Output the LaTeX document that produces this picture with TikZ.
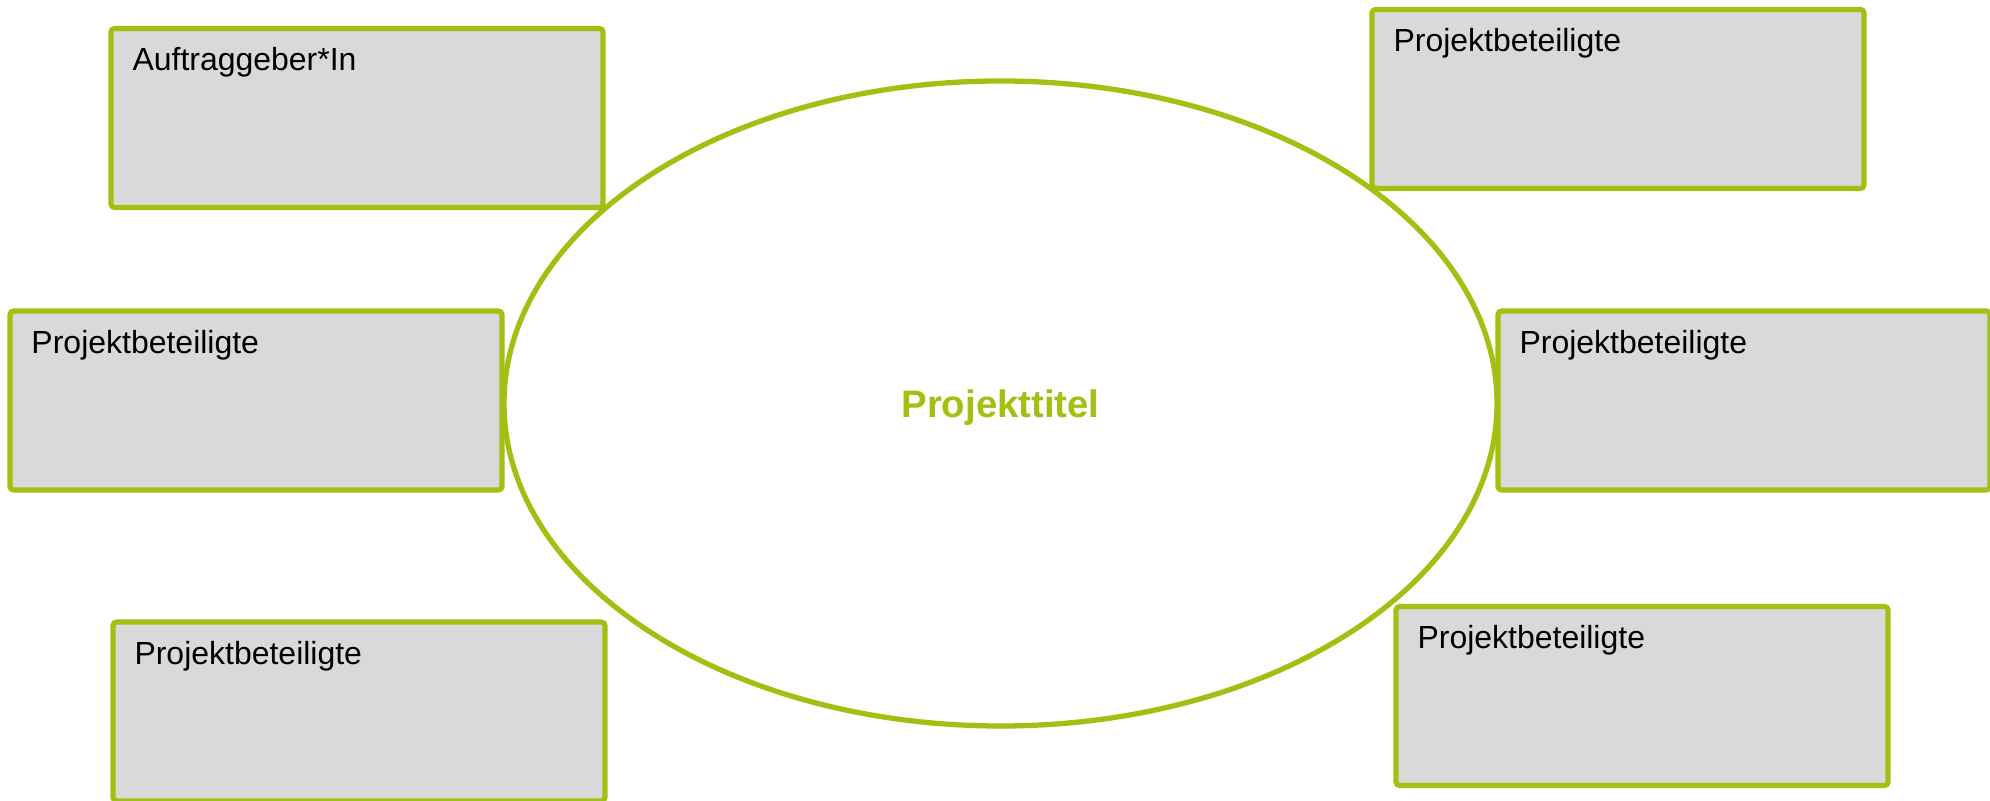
\documentclass[tikz,border=0pt]{standalone}
\usepackage{fontspec}
\setmainfont{Liberation Sans}
\usepackage{xcolor}
\usepackage{tikz}
\usetikzlibrary{positioning, shapes.geometric}

\definecolor{projgreen}{RGB}{160,192,18}
\definecolor{boxgrey}{RGB}{217,217,217}

\begin{document}
\begin{tikzpicture}[
    partbox/.style={draw=projgreen, fill=boxgrey, line width=1.45pt, rounded corners=1pt,
        minimum width=4.92cm, minimum height=1.79cm, outer sep=0pt, inner sep=0pt},
    partlbl/.style={anchor=north west, inner xsep=0.215cm, inner ysep=0.19cm, outer sep=0pt,
        font=\fontsize{9.1}{11}\selectfont},
    title/.style={draw=projgreen, line width=1.5pt, ellipse, minimum width=9.93cm,
        minimum height=6.45cm, inner sep=0pt, outer sep=0pt, text=projgreen, text depth=0pt,
        font=\fontsize{10.9}{13}\selectfont\bfseries}
  ]
    \useasboundingbox (0,0) rectangle (19.9,8);
    % centre
    \node[title] (titel) at (10.005,3.965) {Projekttitel};
    % participants
    \node[partbox, label={[partlbl]north west:Auftraggeber*In}] (auftrag) at (3.57,6.82) {};
    \node[partbox, label={[partlbl]north west:Projektbeteiligte}] (links) at (2.56,3.995) {};
    \node[partbox, label={[partlbl]north west:Projektbeteiligte}] (untenlinks) at (3.59,0.885) {};
    \node[partbox, label={[partlbl]north west:Projektbeteiligte}] (obenrechts) at (16.18,7.01) {};
    \node[partbox, label={[partlbl]north west:Projektbeteiligte}] (rechts) at (17.44,3.995) {};
    \node[partbox, label={[partlbl]north west:Projektbeteiligte}] (untenrechts) at (16.42,1.04) {};
\end{tikzpicture}
\end{document}
